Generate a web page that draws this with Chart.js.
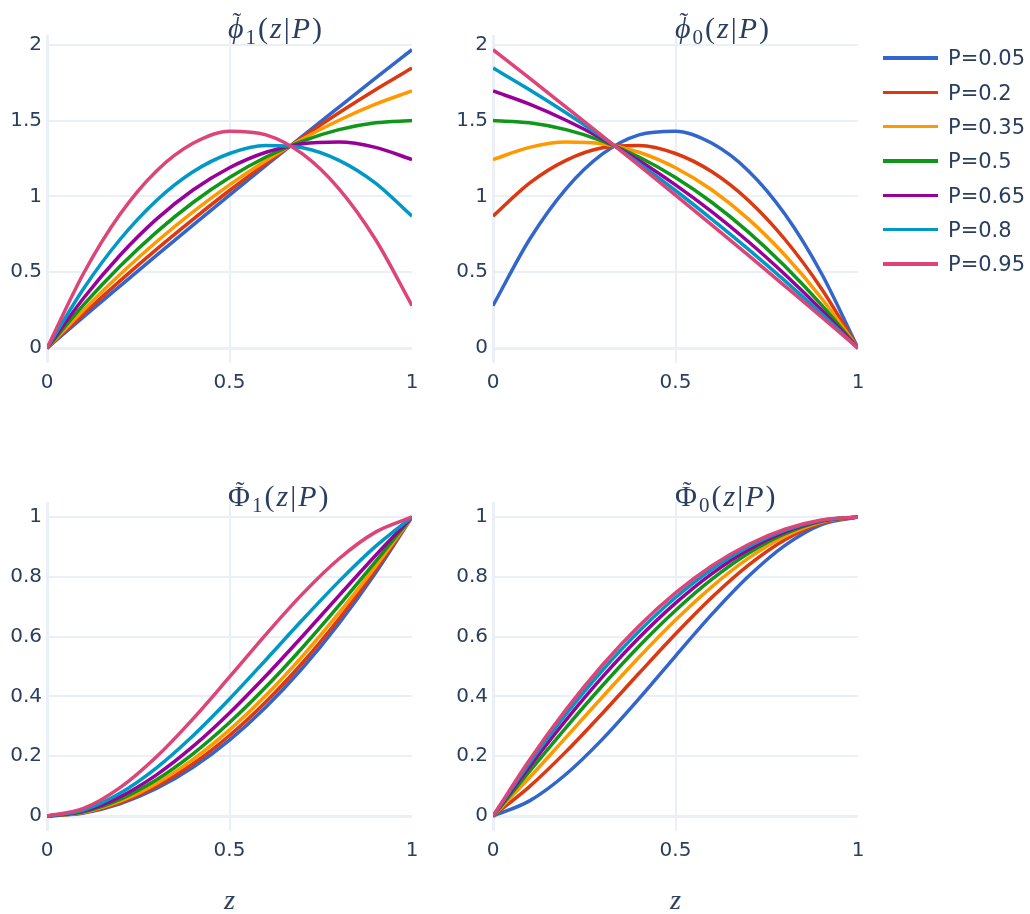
<!DOCTYPE html>
<html>
<head>
<meta charset="utf-8">
<script src="https://cdn.jsdelivr.net/npm/chart.js@4/dist/chart.umd.min.js"></script>
<style>
  html, body { margin: 0; padding: 0; background: #fff; }
  body { width: 1030px; height: 914px; position: relative; overflow: hidden; }
  .pan { position: absolute; }
  .ttl { position: absolute; font-family: "Liberation Serif", "DejaVu Serif", serif; font-size: 30px; line-height: 30px; color: #2a3f5f; white-space: nowrap; letter-spacing: 2px; }
  .ttl sub { font-size: 21px; font-style: normal; vertical-align: -6px; line-height: 0; }
  .acc { position: relative; display: inline-block; }
  .acc .tl { position: absolute; left: 50%; transform: translateX(-50%); font-style: normal; font-size: 26px; letter-spacing: 0; }
  .zt { position: absolute; font-family: "Liberation Serif", "DejaVu Serif", serif; font-size: 28px; line-height: 28px; color: #2a3f5f; font-style: italic; }
  .leg { position: absolute; left: 883px; font-family: "DejaVu Sans", sans-serif; font-size: 21px; color: #2a3f5f; white-space: nowrap; height: 30px; }
  .leg .ln { position: absolute; left: 0; top: 13px; width: 55px; height: 3.5px; }
  .leg .tx { position: absolute; left: 65px; top: 2px; line-height: 26px; }
</style>
</head>
<body>
<div id="root"></div>
<script>
// ---------------- DATA ----------------
const zValues = [0, 0.1, 0.2, 0.3, 0.4, 0.5, 0.6, 0.7, 0.8, 0.9, 1];
const pLabels = ['P=0.05', 'P=0.2', 'P=0.35', 'P=0.5', 'P=0.65', 'P=0.8', 'P=0.95'];
const seriesColors = ['#3366CC', '#DC3912', '#FF9900', '#109618', '#990099', '#0099C6', '#DD4477'];

const xTickValues = [0, 0.5, 1];
const xTickLabels = ['0', '0.5', '1'];
const yTickValuesTop = [0, 0.5, 1, 1.5, 2];
const yTickLabelsTop = ['0', '0.5', '1', '1.5', '2'];
const yTickValuesBottom = [0, 0.2, 0.4, 0.6, 0.8, 1];
const yTickLabelsBottom = ['0', '0.2', '0.4', '0.6', '0.8', '1'];

// phi~1(z|P), one row per P
const phi1Values = [
  [0, 0.206, 0.409, 0.611, 0.811, 1.008, 1.204, 1.398, 1.589, 1.779, 1.967],
  [0, 0.226, 0.443, 0.651, 0.849, 1.039, 1.218, 1.389, 1.551, 1.703, 1.846],
  [0, 0.252, 0.485, 0.701, 0.898, 1.076, 1.237, 1.379, 1.502, 1.608, 1.695],
  [0, 0.285, 0.540, 0.765, 0.960, 1.125, 1.260, 1.365, 1.440, 1.485, 1.500],
  [0, 0.329, 0.612, 0.850, 1.042, 1.189, 1.291, 1.347, 1.358, 1.323, 1.243],
  [0, 0.392, 0.716, 0.973, 1.162, 1.283, 1.336, 1.321, 1.238, 1.088, 0.870],
  [0, 0.492, 0.882, 1.168, 1.350, 1.430, 1.406, 1.280, 1.050, 0.716, 0.280]
];
// phi~0(z|P)
const phi0Values = [
  [0.280, 0.716, 1.050, 1.280, 1.406, 1.430, 1.350, 1.168, 0.882, 0.492, 0],
  [0.870, 1.088, 1.238, 1.321, 1.336, 1.283, 1.162, 0.973, 0.716, 0.392, 0],
  [1.243, 1.323, 1.358, 1.347, 1.291, 1.189, 1.042, 0.850, 0.612, 0.329, 0],
  [1.500, 1.485, 1.440, 1.365, 1.260, 1.125, 0.960, 0.765, 0.540, 0.285, 0],
  [1.695, 1.608, 1.502, 1.379, 1.237, 1.076, 0.898, 0.701, 0.485, 0.252, 0],
  [1.846, 1.703, 1.551, 1.389, 1.218, 1.039, 0.849, 0.651, 0.443, 0.226, 0],
  [1.967, 1.779, 1.589, 1.398, 1.204, 1.008, 0.811, 0.611, 0.409, 0.206, 0]
];
// Phi~1(z|P)
const cdf1Values = [
  [0, 0.0103, 0.0411, 0.0921, 0.1632, 0.2541, 0.3648, 0.4949, 0.6442, 0.8127, 1],
  [0, 0.0114, 0.0449, 0.0997, 0.1748, 0.2693, 0.3822, 0.5126, 0.6597, 0.8225, 1],
  [0, 0.0127, 0.0498, 0.1092, 0.1893, 0.2881, 0.4039, 0.5348, 0.6790, 0.8347, 1],
  [0, 0.0145, 0.0560, 0.1215, 0.2080, 0.3125, 0.4320, 0.5635, 0.7040, 0.8505, 1],
  [0, 0.0168, 0.0642, 0.1377, 0.2327, 0.3446, 0.4690, 0.6013, 0.7369, 0.8713, 1],
  [0, 0.0202, 0.0762, 0.1612, 0.2685, 0.3913, 0.5227, 0.6561, 0.7846, 0.9015, 1],
  [0, 0.0255, 0.0950, 0.1984, 0.3251, 0.4650, 0.6077, 0.7428, 0.8602, 0.9493, 1]
];
// Phi~0(z|P)
const cdf0Values = [
  [0, 0.0507, 0.1398, 0.2572, 0.3923, 0.5350, 0.6749, 0.8016, 0.9050, 0.9745, 1],
  [0, 0.0985, 0.2154, 0.3439, 0.4773, 0.6087, 0.7315, 0.8388, 0.9238, 0.9798, 1],
  [0, 0.1287, 0.2631, 0.3987, 0.5310, 0.6554, 0.7673, 0.8623, 0.9358, 0.9832, 1],
  [0, 0.1495, 0.2960, 0.4365, 0.5680, 0.6875, 0.7920, 0.8785, 0.9440, 0.9855, 1],
  [0, 0.1653, 0.3210, 0.4652, 0.5961, 0.7119, 0.8107, 0.8908, 0.9502, 0.9873, 1],
  [0, 0.1775, 0.3403, 0.4874, 0.6178, 0.7307, 0.8252, 0.9003, 0.9551, 0.9886, 1],
  [0, 0.1873, 0.3558, 0.5051, 0.6352, 0.7459, 0.8368, 0.9079, 0.9589, 0.9897, 1]
];

// ---------------- LAYOUT ----------------
const YW = 47, PT = 20, PR = 20, XH = 40;
const GRID = '#EBF0F8';
const TXT = '#2a3f5f';
const root = document.getElementById('root');

function makePanel(L, R, T, B, ymin, ymax, yTicks, yLabels, rows) {
  const cv = document.createElement('canvas');
  const w = YW + (R - L) + PR, h = PT + (B - T) + XH;
  cv.width = w; cv.height = h;
  cv.style.width = w + 'px'; cv.style.height = h + 'px';
  const d = document.createElement('div');
  d.className = 'pan';
  d.style.left = (L - YW) + 'px';
  d.style.top = (T - PT) + 'px';
  d.appendChild(cv);
  root.appendChild(d);
  const datasets = rows.map((row, i) => ({
    label: pLabels[i],
    data: zValues.map((z, j) => ({ x: z, y: row[j] })),
    borderColor: seriesColors[i],
    backgroundColor: seriesColors[i],
    borderWidth: 3.5,
    pointRadius: 0,
    fill: false,
    cubicInterpolationMode: 'monotone',
    order: rows.length - 1 - i
  }));
  new Chart(cv, {
    type: 'line',
    data: { datasets },
    options: {
      responsive: false, animation: false, devicePixelRatio: 1,
      layout: { padding: { left: 0, right: PR, top: PT, bottom: 0 } },
      plugins: { legend: { display: false }, tooltip: { enabled: false }, title: { display: false } },
      scales: {
        x: {
          type: 'linear', min: 0, max: 1,
          afterBuildTicks: s => { s.ticks = xTickValues.map(v => ({ value: v })); },
          afterFit: s => { s.height = XH; },
          border: { display: false },
          grid: {
            drawTicks: false,
            color: c => (c.tick && c.tick.value === 1) ? 'rgba(0,0,0,0)' : GRID,
            lineWidth: c => (c.tick && c.tick.value === 0) ? 3 : 2
          },
          ticks: {
            padding: 8, color: TXT, maxRotation: 0,
            font: { family: 'DejaVu Sans', size: 20 },
            callback: (v, i) => xTickLabels[i]
          }
        },
        y: {
          type: 'linear', min: ymin, max: ymax,
          afterBuildTicks: s => { s.ticks = yTicks.map(v => ({ value: v })); },
          afterFit: s => { s.width = YW; },
          border: { display: false },
          grid: {
            drawTicks: false,
            color: GRID,
            lineWidth: c => (c.tick && c.tick.value === 0) ? 3 : 2
          },
          ticks: {
            padding: 5, color: TXT,
            font: { family: 'DejaVu Sans', size: 20 },
            callback: (v, i) => yLabels[i]
          }
        }
      }
    }
  });
}

makePanel(47, 412, 35, 363, -0.098, 2.064, yTickValuesTop, yTickLabelsTop, phi1Values);
makePanel(493, 858, 35, 363, -0.098, 2.064, yTickValuesTop, yTickLabelsTop, phi0Values);
makePanel(47, 412, 502, 831, -0.05, 1.05, yTickValuesBottom, yTickLabelsBottom, cdf1Values);
makePanel(493, 858, 502, 831, -0.05, 1.05, yTickValuesBottom, yTickLabelsBottom, cdf0Values);

// titles
function addTitle(left, top, html, cls) {
  const t = document.createElement('div');
  t.className = cls || 'ttl';
  t.style.left = left + 'px';
  t.style.top = top + 'px';
  t.innerHTML = html;
  root.appendChild(t);
}
const phiAcc = '<span class="acc"><i>\u03D5</i><span class="tl" style="top:-6px">\u02DC</span></span>';
const PhiAcc = '<span class="acc">\u03A6<span class="tl" style="top:-5px">\u02DC</span></span>';
addTitle(228, 13, phiAcc + '<sub>1</sub>(<i>z</i>|<i>P</i>)');
addTitle(675, 13, phiAcc + '<sub>0</sub>(<i>z</i>|<i>P</i>)');
addTitle(228, 481, PhiAcc + '<sub>1</sub>(<i>z</i>|<i>P</i>)');
addTitle(675, 481, PhiAcc + '<sub>0</sub>(<i>z</i>|<i>P</i>)');
addTitle(224, 886, 'z', 'zt');
addTitle(670, 886, 'z', 'zt');

// legend
pLabels.forEach((lab, i) => {
  const it = document.createElement('div');
  it.className = 'leg';
  it.style.top = (58.3 + i * 34.3 - 15) + 'px';
  it.innerHTML = '<div class="ln" style="background:' + seriesColors[i] + '"></div><div class="tx">' + lab + '</div>';
  root.appendChild(it);
});
</script>
</body>
</html>
